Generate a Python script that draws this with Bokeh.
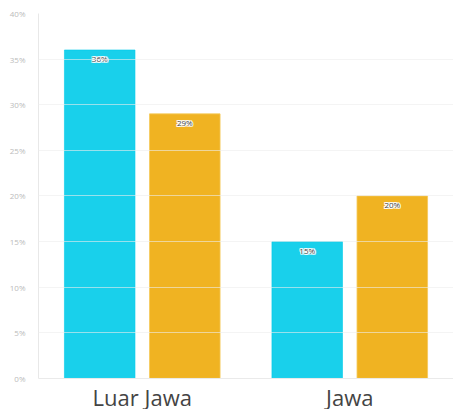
from bokeh.plotting import figure
from bokeh.models import ColumnDataSource, FactorRange, NumeralTickFormatter, SingleIntervalTicker, Span
from bokeh.transform import dodge
from bokeh.core.properties import value
from bokeh.embed import file_html
from bokeh.resources import INLINE

categories = ["Luar Jawa", "Jawa"]
series_a = [0.36, 0.15]
series_b = [0.29, 0.20]
labels_a = ["36%", "15%"]
labels_b = ["29%", "20%"]

src = ColumnDataSource(dict(cat=categories, a=series_a, b=series_b, la=labels_a, lb=labels_b,
                            zero=[0] * len(categories)))

# y range extends below zero only to leave room for the category labels inside the frame
p = figure(x_range=FactorRange(*categories, range_padding=0), y_range=(-0.034, 0.40),
           width=453, height=409, output_backend="svg", toolbar_location=None,
           x_axis_location=None,
           min_border_left=38, min_border_top=13, min_border_right=0, min_border_bottom=0)
p.outline_line_color = None

p.vbar(x=dodge("cat", -0.205, range=p.x_range), top="a", width=0.34, source=src,
       fill_color="#00CBE9", fill_alpha=0.9, line_color="#00CBE9", line_alpha=0.6)
p.vbar(x=dodge("cat", 0.205, range=p.x_range), top="b", width=0.34, source=src,
       fill_color="#EEAB0A", fill_alpha=0.9, line_color="#F5C95A", line_alpha=0.8)

offs = [(-1, 0), (1, 0), (0, -1), (0, 1), (-1, -1), (1, 1), (-1, 1), (1, -1)]
for col, d in (("la", -0.205), ("lb", 0.205)):
    ycol = "a" if col == "la" else "b"
    for dx, dy in offs:
        p.text(x=dodge("cat", d, range=p.x_range), y=ycol, text=col, source=src,
               text_align="center", text_baseline="top", x_offset=dx, y_offset=3 + dy,
               text_font=value("Open Sans"), text_font_size="8px", text_color="white")
    p.text(x=dodge("cat", d, range=p.x_range), y=ycol, text=col, source=src,
           text_align="center", text_baseline="top", y_offset=3,
           text_font=value("Open Sans"), text_font_size="8px", text_color="#444444")

# x axis baseline
p.add_layout(Span(location=0, dimension="width", line_color="#e6e6e6", line_width=1))

# category labels
p.text(x="cat", y="zero", text="cat", source=src, y_offset=4,
       text_align="center", text_baseline="top",
       text_font=value("Open Sans"), text_font_size="22px", text_color="#444444")

p.yaxis.ticker = SingleIntervalTicker(interval=0.05)
p.yaxis.formatter = NumeralTickFormatter(format="0%")
p.yaxis.bounds = (0, 0.40)
p.yaxis.major_label_text_font = "Open Sans"
p.yaxis.major_label_text_font_size = "8px"
p.yaxis.major_label_text_color = "#bbbbbb"
p.yaxis.major_tick_line_color = None
p.yaxis.minor_tick_line_color = None
p.yaxis.axis_line_color = "#e8e8e8"
p.yaxis.major_label_standoff = 7

p.xgrid.grid_line_color = None
p.ygrid.grid_line_color = "#ececec"
p.ygrid.bounds = (0, 0.40)
p.ygrid.level = "overlay"
p.ygrid.grid_line_alpha = 0.6

open("out.html", "w").write(file_html(p, INLINE))
